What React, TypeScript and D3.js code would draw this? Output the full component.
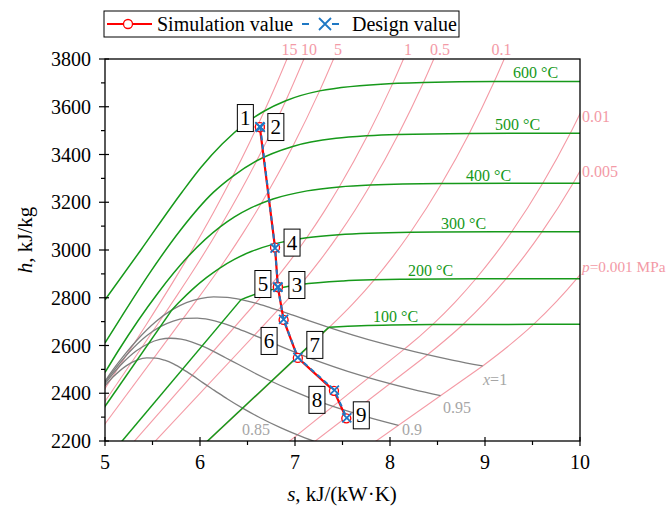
import React from 'react';
import * as d3 from 'd3';

// ---- data (s in kJ/(kg·K), h in kJ/kg) ----

// isobars: saturated liquid end of the wet line, then vapour side
const pressureLabels = ['15', '10', '5', '1', '0.5', '0.1', '0.01', '0.005', '0.001'];
const isobarLiquid = [
  [3.6848, 1610.5], [3.3596, 1407.6], [2.9202, 1154.2], [2.1387, 762.8], [1.8607, 640.2],
  [1.3026, 417.5], [0.6493, 191.8], [0.4764, 137.8], [0.1059, 29.3],
];
const p15 = [[5.3098, 2610.5], [5.4421, 2692.4], [5.8811, 2975.5], [6.1404, 3156.2], [6.3443, 3308.6], [6.5199, 3448.6], [6.6776, 3582.3], [6.8224, 3712.3], [6.9572, 3840.1]];
const p10 = [[5.6141, 2724.7], [5.7568, 2809.1], [5.9443, 2923.4], [6.212, 3096.5], [6.419, 3240.9], [6.5966, 3373.7], [6.7561, 3500.9], [6.9029, 3625.3], [7.1687, 3870.5]];
const p5 = [[5.9734, 2794.3], [6.2084, 2924.5], [6.4493, 3068.4], [6.6459, 3195.7], [6.8186, 3316.2], [6.9759, 3433.8], [7.2589, 3666.5], [7.5122, 3900.1]];
const p1 = [[6.5865, 2778.1], [6.694, 2827.9], [6.9247, 2942.6], [7.1229, 3051.2], [7.3011, 3157.7], [7.4651, 3263.9], [7.7622, 3478.5], [8.029, 3697.9], [8.2731, 3923.1]];
const p05 = [[6.8213, 2748.7], [7.0592, 2855.4], [7.2709, 2960.7], [7.4599, 3064.2], [7.6329, 3167.7], [7.7938, 3271.9], [8.0873, 3483.9], [8.3522, 3701.7], [8.5952, 3925.9]];
const p01 = [[7.3594, 2675.5], [7.6134, 2776.4], [7.8343, 2875.3], [8.0333, 2974.3], [8.2158, 3074.3], [8.5435, 3278.2], [8.8342, 3488.1], [9.0976, 3705.4], [9.3398, 3928.7]];
const p001 = [[8.1502, 2584.7], [8.1749, 2592.6], [8.4479, 2687.5], [8.6882, 2783.0], [8.9038, 2879.5], [9.1002, 2977.3], [9.2813, 3076.5], [9.6077, 3279.6], [9.8978, 3489.1], [10.1608, 3705.4]];
const p0005 = [[8.3951, 2561.5], [8.4948, 2593.7], [8.7678, 2688.0], [9.0081, 2783.3], [9.2237, 2879.7], [9.4201, 2977.5], [9.6012, 3076.7], [9.9276, 3279.7], [10.2177, 3489.2]];
const p0001 = [[8.9756, 2514.2], [9.2376, 2594.9], [9.5106, 2688.4], [9.7509, 2783.6], [9.9665, 2879.9], [10.163, 2977.7]];
const isobarVapour = [p15, p10, p5, p1, p05, p01, p001, p0005, p0001];

// isotherms
const tempLabels = ['100', '200', '300', '400', '500', '600'];
const isothermLiquid = [[1.3069, 419.0], [2.3309, 852.5], [3.2534, 1344.0], null, null, null];
const t100 = [[7.3549, 2676.1], [7.6947, 2682.5], [8.4479, 2687.5], [8.7698, 2688.0], [9.5106, 2688.6], [10.2, 2688.7]];
const t200 = [[6.4323, 2792.2], [6.5909, 2815.9], [6.694, 2827.9], [7.0592, 2855.4], [7.5066, 2870.5], [7.8343, 2875.3], [8.1585, 2877.7], [8.9038, 2879.5], [9.224, 2879.7], [9.9682, 2880.0], [10.2, 2880.0]];
const t300 = [[5.7045, 2749.0], [5.7906, 2785.0], [5.932, 2839.3], [6.0674, 2884.2], [6.2084, 2924.5], [6.3615, 2960.7], [6.539, 2993.5], [6.7664, 3023.5], [7.1229, 3051.2], [7.4599, 3064.2], [8.2158, 3074.3], [8.5373, 3075.5], [9.2813, 3076.5], [9.6013, 3076.8], [10.2, 3077.0]];
const t400 = [[5.0, 2487], [5.14, 2578.0], [5.554, 2818.1], [5.8811, 2975.5], [6.212, 3096.5], [6.3634, 3138.3], [6.5408, 3177.2], [6.769, 3213.6], [7.1271, 3247.6], [7.4651, 3263.9], [7.7938, 3271.9], [8.5435, 3278.2], [9.6077, 3279.6], [10.2, 3280.0]];
const t500 = [[5.0, 2611], [5.1726, 2720.1], [5.47, 2903.3], [5.7956, 3083.9], [6.1401, 3241.2], [6.3443, 3308.6], [6.5966, 3373.7], [6.9759, 3433.8], [7.4317, 3467.6], [7.7622, 3478.5], [8.0873, 3483.9], [8.8342, 3488.1], [9.8978, 3489.1], [10.2, 3489.2]];
const t600 = [[5.0, 2791], [5.37, 2996], [5.81, 3242], [6.0114, 3346.4], [6.2331, 3443.9], [6.5048, 3537.6], [6.6776, 3582.3], [6.9029, 3625.3], [7.2589, 3666.5], [8.029, 3697.9], [8.3522, 3701.7], [9.0976, 3705.4], [10.1608, 3705.4]];
const isothermVapour = [t100, t200, t300, t400, t500, t600];

// constant dryness lines
const qualityLabels = ['x=1', '0.95', '0.9', '0.85'];
const x100 = [[4.94, 2412], [5.0526, 2481.0], [5.2112, 2563.9], [5.3357, 2622.0], [5.5362, 2700.6], [5.7045, 2749.0], [5.8571, 2779.6], [6.0019, 2796.6], [6.1437, 2803.3], [6.2861, 2801.5], [6.4323, 2792.2], [6.5857, 2777.1], [6.7502, 2756.8], [6.9299, 2733.9], [7.1296, 2706.3], [7.3549, 2676.1], [7.6122, 2643.7], [7.9085, 2609.6], [8.257, 2574.3], [8.6672, 2538.1], [8.9756, 2514.2]];
const x95 = [[4.94, 2416], [5.0, 2447.0], [5.252, 2570.6], [5.432, 2638.7], [5.582, 2678.8], [5.718, 2702.4], [5.846, 2713.5], [5.972, 2715.0], [6.098, 2708.6], [6.227, 2695.2], [6.363, 2676.3], [6.51, 2652.7], [6.67, 2626.7], [6.85, 2596.2], [7.053, 2563.2], [7.285, 2528.3], [7.555, 2491.7], [7.873, 2454.0], [8.249, 2415.4], [8.532, 2390.0]];
const x90 = [[4.939, 2408.9], [5.168, 2519.2], [5.327, 2576.7], [5.459, 2608.5], [5.578, 2625.2], [5.69, 2630.3], [5.8, 2626.6], [5.909, 2615.6], [6.022, 2598.1], [6.141, 2575.6], [6.269, 2548.5], [6.411, 2519.4], [6.569, 2486.0], [6.75, 2450.4], [6.959, 2412.8], [7.201, 2373.7], [7.489, 2333.6], [7.83, 2292.7], [8.089, 2265.7]];
const x85 = [[4.882, 2372.9], [5.084, 2467.8], [5.223, 2514.8], [5.337, 2538.3], [5.439, 2548.1], [5.534, 2547.2], [5.627, 2538.3], [5.721, 2522.7], [5.817, 2501.1], [5.919, 2474.8], [6.029, 2444.4], [6.151, 2412.2], [6.289, 2375.9], [6.448, 2337.5], [6.632, 2297.4], [6.847, 2255.8], [7.104, 2213.3], [7.412, 2170.0], [7.645, 2141.5]];
const qualityLines = [x100, x95, x90, x85];

// process points, in path order
const pointNames = ['1', '2', '4', '3', '5', '6', '7', '8', '9'];
const simS = [6.63, 6.63, 6.79, 6.82, 6.82, 6.88, 7.03, 7.41, 7.54];
const simH = [3515, 3515, 3010, 2845, 2845, 2707, 2548, 2410, 2295];
const desS = [6.63, 6.635, 6.79, 6.82, 6.82, 6.88, 7.03, 7.415, 7.545];
const desH = [3517, 3514, 3008, 2846, 2843, 2709, 2550, 2413, 2297];

const sTicks = [5, 6, 7, 8, 9, 10];
const hTicks = [2200, 2400, 2600, 2800, 3000, 3200, 3400, 3600, 3800];

// ---- styling ----
const FONT = '"Liberation Serif", "Times New Roman", serif';
const PINK = '#f49aa5';
const PINK_TXT = '#f39aa6';
const GREEN = '#16991a';
const GREY = '#7f7f7f';
const GREY_TXT = '#a6a6a6';
const RED = '#ff0000';
const BLUE = '#1f78c4';

// label placement (pixels)
const pressurePos = [
  { x: 289.5, y: 55, a: 'middle', f: 16 }, { x: 309, y: 55, a: 'middle', f: 16 }, { x: 338, y: 55, a: 'middle', f: 16 },
  { x: 408, y: 55, a: 'middle', f: 16 }, { x: 440, y: 55, a: 'middle', f: 16 }, { x: 501.5, y: 55, a: 'middle', f: 16 },
  { x: 582, y: 122, a: 'start', f: 16 }, { x: 582, y: 177, a: 'start', f: 16 }, { x: 582, y: 272, a: 'start', f: 15.3 },
];
const tempPos = [[373, 322], [408, 276], [441, 229], [466, 181], [495, 130], [513, 78]];
const qualityPos = [[483, 385], [443, 413], [402, 435], [242, 435]];
const boxOffset: Record<string, number[]> = {
  '1': [-14.5, -9], '2': [16, 0], '4': [17, -5], '3': [19, -2], '5': [-15, -3],
  '6': [-14.5, 21], '7': [17, -13], '8': [-17, 9], '9': [15, -3],
};

export default function App() {
  const x = d3.scaleLinear().domain([5, 10]).range([105, 580]);
  const y = d3.scaleLinear().domain([2200, 3800]).range([441, 59]);
  const smooth = d3.line<number[]>().x(d => x(d[0])).y(d => y(d[1])).curve(d3.curveMonotoneX);
  const straight = d3.line<number[]>().x(d => x(d[0])).y(d => y(d[1]));

  const sim = simS.map((s, i) => [s, simH[i]]);
  const des = desS.map((s, i) => [s, desH[i]]);

  const [x0, x1] = x.range();
  const [y0, y1] = y.range();

  return (
    <svg width={668} height={511} style={{ position: 'absolute', left: 0, top: 0 }} fontFamily={FONT}>
      <rect width={668} height={511} fill="#fff" />
      <defs>
        <clipPath id="plot">
          <rect x={x0} y={y1} width={x1 - x0} height={y0 - y1} />
        </clipPath>
      </defs>

      <g clipPath="url(#plot)" fill="none">
        {isobarVapour.map((v, i) => (
          <g key={'p' + i} stroke={PINK} strokeWidth={1.1}>
            <path d={straight([isobarLiquid[i], v[0]]) || ''} />
            <path d={smooth(v) || ''} />
          </g>
        ))}
        {qualityLines.map((q, i) => (
          <path key={'q' + i} d={smooth(q) || ''} stroke={GREY} strokeWidth={1.3} />
        ))}
        {isothermVapour.map((v, i) => (
          <g key={'t' + i} stroke={GREEN} strokeWidth={1.5}>
            {isothermLiquid[i] && <path d={straight([isothermLiquid[i] as number[], v[0]]) || ''} />}
            <path d={smooth(v) || ''} />
          </g>
        ))}
      </g>

      {/* labels of the line families */}
      {pressureLabels.map((p, i) => (
        <text key={'pl' + i} x={pressurePos[i].x} y={pressurePos[i].y} textAnchor={pressurePos[i].a as any}
          fontSize={pressurePos[i].f} fill={PINK_TXT}>
          {i === 8 ? <><tspan fontStyle="italic">p</tspan>={p} MPa</> : p}
        </text>
      ))}
      {tempLabels.map((t, i) => (
        <text key={'tl' + i} x={tempPos[i][0]} y={tempPos[i][1]} fontSize={16} fill={GREEN}>{t} °C</text>
      ))}
      {qualityLabels.map((q, i) => (
        <text key={'ql' + i} x={qualityPos[i][0]} y={qualityPos[i][1]} fontSize={16} fill={GREY_TXT}>
          {i === 0 ? <><tspan fontStyle="italic">x</tspan>=1</> : q}
        </text>
      ))}

      {/* process lines */}
      <path d={straight(sim) || ''} fill="none" stroke={RED} strokeWidth={2.2} />
      {sim.map((d, i) => (
        <circle key={'c' + i} cx={x(d[0])} cy={y(d[1])} r={4.5} fill="#fff" stroke={RED} strokeWidth={1.3} />
      ))}
      <path d={straight(des) || ''} fill="none" stroke={BLUE} strokeWidth={2} strokeDasharray="5,4" />
      {des.map((d, i) => {
        const cx = x(d[0]), cy = y(d[1]);
        return (
          <path key={'x' + i} d={`M${cx - 4.5},${cy - 4.5}L${cx + 4.5},${cy + 4.5}M${cx - 4.5},${cy + 4.5}L${cx + 4.5},${cy - 4.5}`}
            stroke={BLUE} strokeWidth={1.8} />
        );
      })}

      {/* point boxes */}
      {pointNames.map((n, i) => {
        const cx = x(simS[i]) + boxOffset[n][0];
        const cy = y(simH[i]) + boxOffset[n][1];
        return (
          <g key={'b' + i}>
            <rect x={cx - 8} y={cy - 13.5} width={16} height={27} fill="#fff" stroke="#000" strokeWidth={1} />
            <text x={cx} y={cy + 7} textAnchor="middle" fontSize={21}>{n}</text>
          </g>
        );
      })}

      {/* frame and axes */}
      <rect x={x0} y={y1} width={x1 - x0} height={y0 - y1} fill="none" stroke="#000" strokeWidth={1.3} />
      {x.ticks(10).map(t => {
        const major = sTicks.includes(t);
        return <line key={'xt' + t} x1={x(t)} x2={x(t)} y1={y0 - (major ? 4 : 0)} y2={y0 + (major ? 5 : 4)} stroke="#000" strokeWidth={1.2} />;
      })}
      {y.ticks(16).map(t => {
        const major = hTicks.includes(t);
        return <line key={'yt' + t} x1={x0 - (major ? 6 : 4)} x2={x0 + (major ? 4 : 0)} y1={y(t)} y2={y(t)} stroke="#000" strokeWidth={1.2} />;
      })}
      {sTicks.map(t => (
        <text key={'xl' + t} x={x(t)} y={469} textAnchor="middle" fontSize={20}>{t}</text>
      ))}
      {hTicks.map(t => (
        <text key={'yl' + t} x={91} y={y(t) + 7} textAnchor="end" fontSize={20}>{t}</text>
      ))}
      <text x={342} y={501} textAnchor="middle" fontSize={21}>
        <tspan fontStyle="italic">s</tspan>, kJ/(kW·K)
      </text>
      <text transform="translate(32,240) rotate(-90)" textAnchor="middle" fontSize={21}>
        <tspan fontStyle="italic">h</tspan>, kJ/kg
      </text>

      {/* legend */}
      <rect x={104} y={11} width={355} height={26} fill="#fff" stroke="#000" strokeWidth={1} />
      <line x1={107} x2={152} y1={24} y2={24} stroke={RED} strokeWidth={2} />
      <circle cx={128} cy={24} r={4.5} fill="#fff" stroke={RED} strokeWidth={1.3} />
      <text x={157} y={31} fontSize={20}>Simulation value</text>
      <line x1={302} x2={309} y1={24} y2={24} stroke={BLUE} strokeWidth={2} />
      <line x1={332} x2={339} y1={24} y2={24} stroke={BLUE} strokeWidth={2} />
      <path d="M319,18L331,30M319,30L331,18" stroke={BLUE} strokeWidth={1.8} />
      <text x={352} y={31} fontSize={20}>Design value</text>
    </svg>
  );
}
